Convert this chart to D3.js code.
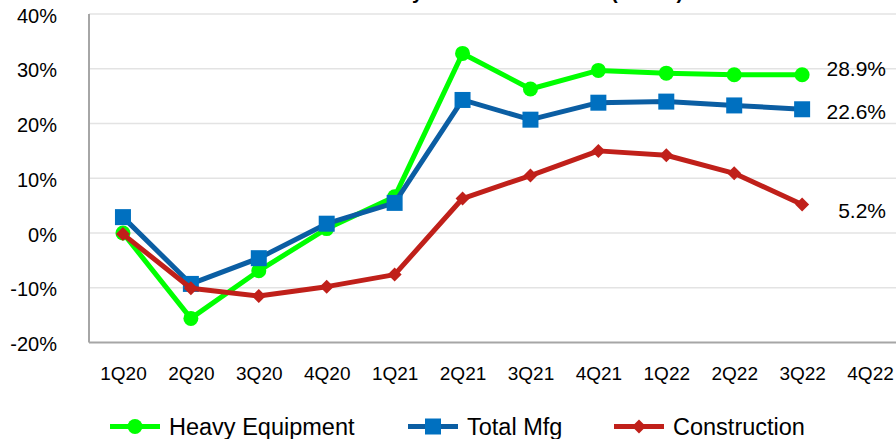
<!DOCTYPE html>
<html>
<head>
<meta charset="utf-8">
<script src="https://cdn.jsdelivr.net/npm/d3@7"></script>
<style>
  html, body { margin: 0; padding: 0; background: #fff; }
  svg { display: block; font-family: "Liberation Sans", Arial, sans-serif; }
</style>
</head>
<body>
<svg id="chart" width="896" height="439"></svg>
<script>
const categories = ["1Q20","2Q20","3Q20","4Q20","1Q21","2Q21","3Q21","4Q21","1Q22","2Q22","3Q22","4Q22"];
const heavyEquipment = [0.0, -15.6, -6.9, 0.8, 6.6, 32.8, 26.3, 29.7, 29.2, 28.9, 28.9];
const totalMfg       = [2.9, -9.3, -4.6, 1.7, 5.5, 24.3, 20.7, 23.8, 24.0, 23.3, 22.6];
const construction   = [-0.2, -10.1, -11.5, -9.8, -7.6, 6.3, 10.5, 15.0, 14.2, 10.9, 5.2];
const yTicks = [-20, -10, 0, 10, 20, 30, 40];
const seriesNames = ["Heavy Equipment", "Total Mfg", "Construction"];
const titleText = "Activity Index Growth Rate (3MMA)";

(function () {
const svg = d3.select("#chart");
const pLeft = 89, pRight = 904, pTop = 14, pBottom = 342.5;

const x = d3.scalePoint().domain(categories).range([pLeft, pRight]).padding(0.5);
const y = d3.scaleLinear().domain([-20, 40]).range([pBottom, pTop]);

// partially visible title (cut off at the top)
svg.append("text")
  .attr("x", 351).attr("y", -1)
  .attr("font-size", 20).attr("font-weight", "bold")
  .attr("fill", "#000")
  .text(titleText);

// gridlines
svg.append("g").selectAll("line")
  .data(yTicks.filter(d => d !== -20))
  .join("line")
  .attr("x1", pLeft).attr("x2", 896)
  .attr("y1", d => y(d)).attr("y2", d => y(d))
  .attr("stroke", "#E3E3E3").attr("stroke-width", 1.5);

// axis lines
svg.append("line").attr("x1", pLeft).attr("x2", pLeft).attr("y1", y(40)).attr("y2", pBottom)
  .attr("stroke", "#A6A6A6").attr("stroke-width", 2);
svg.append("line").attr("x1", pLeft).attr("x2", 896).attr("y1", pBottom).attr("y2", pBottom)
  .attr("stroke", "#A6A6A6").attr("stroke-width", 2);

// y axis labels
const yAxis = d3.axisLeft(y).tickValues(yTicks).tickSize(0).tickPadding(0)
  .tickFormat(d => d + "%");
const gy = svg.append("g").attr("transform", `translate(57,0)`).call(yAxis);
gy.select(".domain").remove();
gy.selectAll("text").attr("font-size", 20).attr("fill", "#000")
  .attr("font-family", '"Liberation Sans", Arial, sans-serif').attr("dy", "0.4em");

// x axis labels
const xAxis = d3.axisBottom(x).tickSize(0).tickPadding(0);
const gx = svg.append("g").attr("transform", `translate(0,366)`).call(xAxis);
gx.select(".domain").remove();
gx.selectAll("text").attr("font-size", 19).attr("fill", "#000")
  .attr("font-family", '"Liberation Sans", Arial, sans-serif').attr("dy", "0.71em");

const series = [
  { name: seriesNames[0], values: heavyEquipment, line: "#00FF00", fill: "#00FF00", marker: "circle", labelDy: -6 },
  { name: seriesNames[1], values: totalMfg, line: "#0B5EA3", fill: "#0070C0", marker: "square", labelDy: 2.5 },
  { name: seriesNames[2], values: construction, line: "#C0201A", fill: "#C0201A", marker: "diamond", labelDy: 5.7 }
];

const symbolPath = {
  circle: d3.symbol().type(d3.symbolCircle).size(Math.PI * 7.5 * 7.5)(),
  square: d3.symbol().type(d3.symbolSquare).size(16 * 16)(),
  diamond: "M0,-7 L7,0 L0,7 L-7,0 Z"
};

const lineGen = d3.line().x((d, i) => x(categories[i])).y(d => y(d));

series.forEach(s => {
  const g = svg.append("g");
  g.append("path").datum(s.values)
    .attr("d", lineGen)
    .attr("fill", "none").attr("stroke", s.line).attr("stroke-width", 5)
    .attr("stroke-linejoin", "round");
  g.selectAll("path.m").data(s.values).join("path").attr("class", "m")
    .attr("d", symbolPath[s.marker])
    .attr("transform", (d, i) => `translate(${x(categories[i])},${y(d)})`)
    .attr("fill", s.fill);
  const last = s.values[s.values.length - 1];
  g.append("text")
    .attr("x", 886).attr("y", y(last) + s.labelDy)
    .attr("dy", "0.36em").attr("text-anchor", "end")
    .attr("font-size", 21).attr("fill", "#000")
    .text(last.toFixed(1) + "%");
});

// legend
const legendX = [110, 408, 614];
const legendY = 426.5;
series.forEach((s, i) => {
  const g = svg.append("g").attr("transform", `translate(${legendX[i]},${legendY})`);
  g.append("line").attr("x1", 0).attr("x2", 50).attr("y1", 0).attr("y2", 0)
    .attr("stroke", s.line).attr("stroke-width", 5);
  g.append("path").attr("d", symbolPath[s.marker]).attr("transform", "translate(25,0)").attr("fill", s.fill);
  g.append("text").attr("x", 59).attr("y", 0).attr("dy", "0.36em")
    .attr("font-size", 23.5).attr("fill", "#000").text(s.name);
});
})();
</script>
</body>
</html>
